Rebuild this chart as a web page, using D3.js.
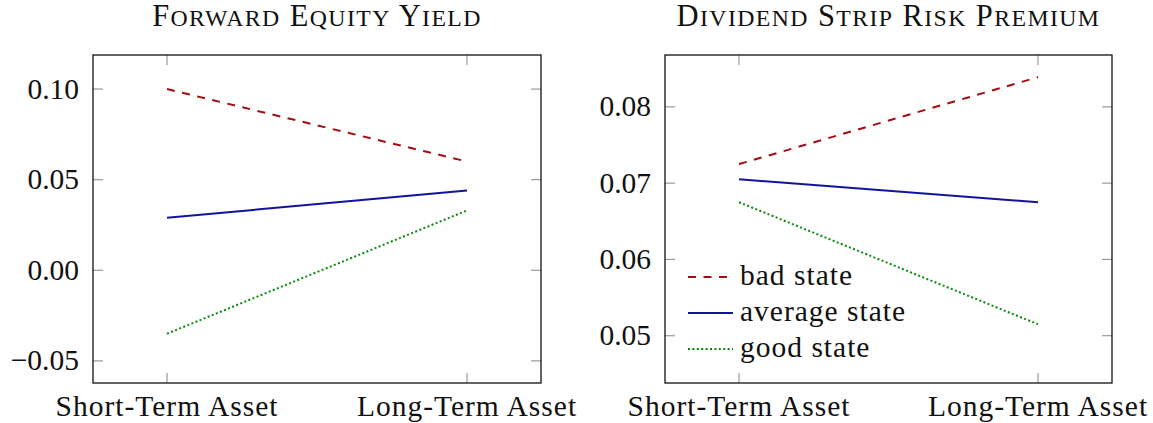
<!DOCTYPE html>
<html>
<head>
<meta charset="utf-8">
<script src="https://cdn.jsdelivr.net/npm/d3@7"></script>
<style>
  body { margin: 0; background: #fff; }
  svg text { font-family: "Liberation Serif", "DejaVu Serif", serif; fill: #111; }
</style>
</head>
<body>
<svg id="chart" width="1153" height="423"></svg>
<script>
var categories = ["Short-Term Asset", "Long-Term Asset"];
var seriesNames = ["bad state", "average state", "good state"];

// Forward Equity Yield
var yieldBad = [0.100, 0.060];
var yieldAvg = [0.029, 0.044];
var yieldGood = [-0.035, 0.033];
var yieldTicks = [-0.05, 0.00, 0.05, 0.10];

// Dividend Strip Risk Premium
var premBad = [0.0725, 0.0839];
var premAvg = [0.0705, 0.0675];
var premGood = [0.0675, 0.0515];
var premTicks = [0.05, 0.06, 0.07, 0.08];

var colors = ["#a30d12", "#13139a", "#0a8a0a"];
var dashes = ["8,7.5", null, "2,2.4"];

var svg = d3.select("#chart");
var fs = 29.5;

// fake small caps: capitals full size, lower case as smaller capitals
function smallCaps(sel, str) {
  str.split(" ").forEach(function(word, wi) {
    if (wi > 0) sel.append("tspan").attr("font-size", 30.5).text(" ");
    sel.append("tspan").attr("font-size", 30.5).text(word[0]);
    sel.append("tspan").attr("font-size", 30.5 * 0.78).text(word.slice(1).toUpperCase());
  });
}

function panel(opts) {
  var g = svg.append("g");
  var x = d3.scalePoint().domain(categories).range([opts.left + 74, opts.right - 74]);
  var y = d3.scaleLinear().domain(opts.ydomain).range([383, 55]);

  // ticks (inside, mirrored)
  opts.ticks.forEach(function(t) {
    g.append("line").attr("x1", opts.left).attr("x2", opts.left + 10)
      .attr("y1", y(t)).attr("y2", y(t)).attr("stroke", "#999").attr("stroke-width", 1.2);
    g.append("line").attr("x1", opts.right - 10).attr("x2", opts.right)
      .attr("y1", y(t)).attr("y2", y(t)).attr("stroke", "#999").attr("stroke-width", 1.2);
    g.append("text").attr("x", opts.left - 14).attr("y", y(t) + 9.5)
      .attr("text-anchor", "end").attr("font-size", fs)
      .text(d3.format(".2f")(t));
  });
  categories.forEach(function(c) {
    g.append("line").attr("x1", x(c)).attr("x2", x(c))
      .attr("y1", 383).attr("y2", 373).attr("stroke", "#999").attr("stroke-width", 1.2);
    g.append("line").attr("x1", x(c)).attr("x2", x(c))
      .attr("y1", 55).attr("y2", 65).attr("stroke", "#999").attr("stroke-width", 1.2);
    g.append("text").attr("x", x(c)).attr("y", 416)
      .attr("text-anchor", "middle").attr("font-size", fs)
      .attr("letter-spacing", 1).text(c);
  });

  var line = d3.line().x(function(d, i) { return x(categories[i]); }).y(function(d) { return y(d); });
  opts.series.forEach(function(s, i) {
    g.append("path").datum(s).attr("d", line).attr("fill", "none")
      .attr("stroke", colors[i]).attr("stroke-width", 2)
      .attr("stroke-dasharray", dashes[i]);
  });

  g.append("rect").attr("x", opts.left).attr("y", 55)
    .attr("width", opts.right - opts.left).attr("height", 328)
    .attr("fill", "none").attr("stroke", "#111").attr("stroke-width", 1.3);

  var title = g.append("text").attr("x", (opts.left + opts.right) / 2).attr("y", 26)
    .attr("text-anchor", "middle").attr("letter-spacing", 1.4);
  smallCaps(title, opts.title);
  return g;
}

panel({ left: 93, right: 541, ydomain: [-0.0622, 0.1188], ticks: yieldTicks,
        series: [yieldBad, yieldAvg, yieldGood], title: "Forward Equity Yield" });
var p2 = panel({ left: 665, right: 1112, ydomain: [0.0438, 0.0868], ticks: premTicks,
        series: [premBad, premAvg, premGood], title: "Dividend Strip Risk Premium" });

// legend
seriesNames.forEach(function(name, i) {
  var yy = 277 + i * 36;
  p2.append("line").attr("x1", 688).attr("x2", 733).attr("y1", yy).attr("y2", yy)
    .attr("stroke", colors[i]).attr("stroke-width", 2).attr("stroke-dasharray", dashes[i]);
  p2.append("text").attr("x", 740).attr("y", yy + 8).attr("font-size", fs)
    .attr("letter-spacing", 1).text(name);
});
</script>
</body>
</html>
